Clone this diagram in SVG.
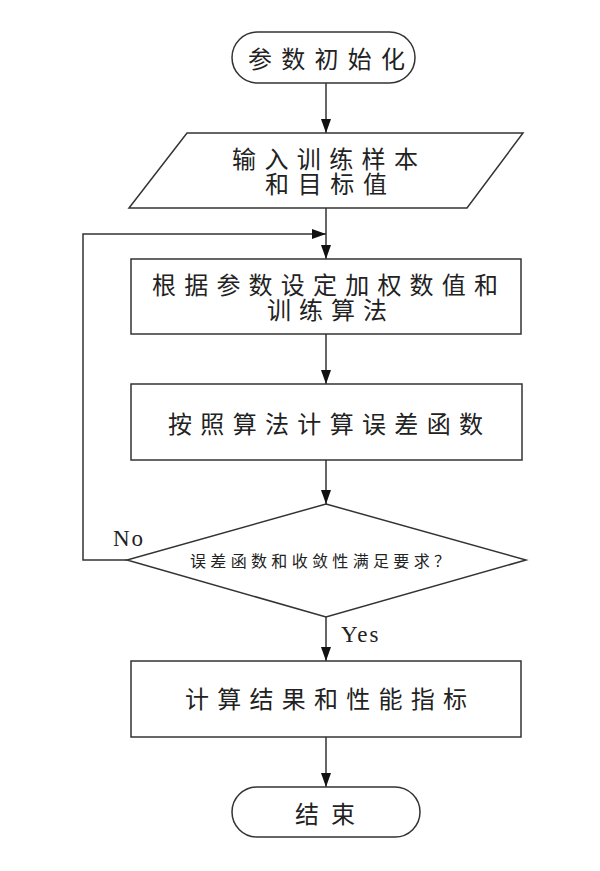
<svg xmlns="http://www.w3.org/2000/svg" width="600" height="871" viewBox="0 0 600 871">
<style>
.shape{fill:#fff;stroke:#333;stroke-width:1.5}
.t{font-family:"Noto Sans CJK SC","Noto Sans CJK TC",sans-serif;font-size:24px;fill:#222;text-anchor:middle;dominant-baseline:central}
.s{font-size:16px}
.lat{font-family:"Liberation Serif",serif;font-size:23px;letter-spacing:2px;fill:#222}
.c{fill:none;stroke:#333;stroke-width:1.5}
</style>
<defs>
<marker id="ahb" viewBox="0 0 14 10" refX="14" refY="5" markerWidth="14" markerHeight="10" markerUnits="userSpaceOnUse" orient="auto">
<path d="M0,0 L14,5 L0,10 Z" fill="#111"/>
</marker>
</defs>
<g id="connectors">
<line class="c" x1="326" y1="83" x2="326" y2="133" marker-end="url(#ahb)"/>
<line class="c" x1="326" y1="208" x2="326" y2="259" marker-end="url(#ahb)"/>
<polyline class="c" points="127,560 83,560 83,234 326,234" marker-end="url(#ahb)"/>
<line class="c" x1="326" y1="334" x2="326" y2="384" marker-end="url(#ahb)"/>
<line class="c" x1="326" y1="460" x2="326" y2="504" marker-end="url(#ahb)"/>
<line class="c" x1="326" y1="617" x2="326" y2="661" marker-end="url(#ahb)"/>
<line class="c" x1="326" y1="737" x2="326" y2="787" marker-end="url(#ahb)"/>
<text class="lat" x="113" y="546">No</text>
<text class="lat" x="341" y="642">Yes</text>
</g>
<g id="start">
<rect class="shape" x="232" y="32" width="183" height="51" rx="25.5" ry="25.5"/>
<text class="t" x="326.5" y="57" textLength="157" lengthAdjust="spacing">参数初始化</text>
</g>
<g id="input">
<polygon class="shape" points="187,133 523,133 467,208 129,208"/>
<text class="t"><tspan x="325" y="157" textLength="186" lengthAdjust="spacing">输入训练样本</tspan><tspan x="326" y="182" textLength="122" lengthAdjust="spacing">和目标值</tspan></text>
</g>
<g id="setweights">
<rect class="shape" x="131" y="259" width="390" height="75"/>
<text class="t"><tspan x="325" y="283" textLength="346" lengthAdjust="spacing">根据参数设定加权数值和</tspan><tspan x="327" y="308" textLength="120" lengthAdjust="spacing">训练算法</tspan></text>
</g>
<g id="calcerror">
<rect class="shape" x="131" y="384" width="391" height="76"/>
<text class="t" x="325.5" y="422" textLength="315" lengthAdjust="spacing">按照算法计算误差函数</text>
</g>
<g id="decision">
<polygon class="shape" points="326,504 526,560 326,617 127,560"/>
<text class="t s" x="320" y="560" textLength="260" lengthAdjust="spacing">误差函数和收敛性满足要求？</text>
</g>
<g id="result">
<rect class="shape" x="131" y="661" width="390" height="76"/>
<text class="t" x="326" y="697" textLength="282" lengthAdjust="spacing">计算结果和性能指标</text>
</g>
<g id="end">
<rect class="shape" x="232" y="787" width="188" height="50" rx="25" ry="25"/>
<text class="t" x="325" y="812" textLength="60" lengthAdjust="spacing">结束</text>
</g>
</svg>
